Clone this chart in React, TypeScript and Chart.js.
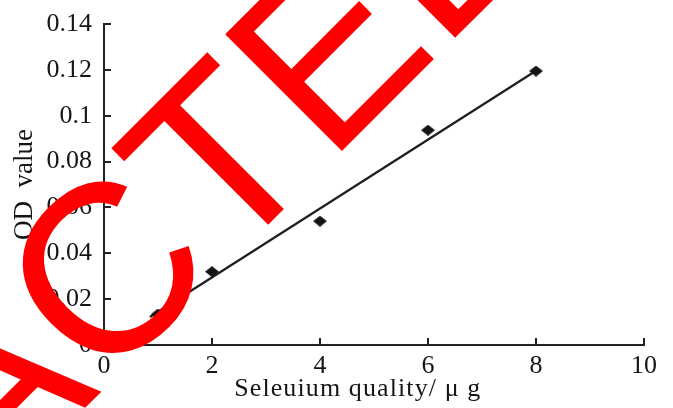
import React, { useEffect, useRef } from "react";
import { Chart, registerables } from "chart.js";

Chart.register(...registerables);

// ---- data ----
const seleniumMass = [1, 2, 4, 6, 8];
const odValues = [0.0135, 0.032, 0.054, 0.0937, 0.1195];
const fitX = [0.85, 8];
const fitY = [0.0122, 0.1196];

const xTicks = [0, 2, 4, 6, 8, 10];
const xTickLabels = ["0", "2", "4", "6", "8", "10"];
const yTicks = [0, 0.02, 0.04, 0.06, 0.08, 0.1, 0.12, 0.14];
const yTickLabels = ["0", "0.02", "0.04", "0.06", "0.08", "0.1", "0.12", "0.14"];

const xTitle = "Seleuium quality/ \u03bc g";
const yTitle = "OD  value";
const stampText = "RETRACTED";
const stampAnchorWord = "RETRACT";

const SERIF = '"Liberation Serif", "Times New Roman", serif';
const AXIS_COLOR = "#222";
const TEXT_COLOR = "#161616";

function makeDiamond(): HTMLCanvasElement {
  const c = document.createElement("canvas");
  c.width = 14;
  c.height = 11;
  const g = c.getContext("2d")!;
  g.fillStyle = "#141414";
  g.beginPath();
  g.moveTo(0, 5.5);
  g.lineTo(7, 0);
  g.lineTo(14, 5.5);
  g.lineTo(7, 11);
  g.closePath();
  g.fill();
  return c;
}

const innerTicks = {
  id: "innerTicks",
  afterDatasetsDraw(chart: any) {
    const { ctx, chartArea } = chart;
    const xs = chart.scales.x;
    const ys = chart.scales.y;
    ctx.save();
    ctx.strokeStyle = AXIS_COLOR;
    ctx.lineWidth = 2;
    ctx.beginPath();
    yTicks.forEach((v) => {
      if (v === 0) return;
      const py = Math.round(ys.getPixelForValue(v));
      ctx.moveTo(chartArea.left, py);
      ctx.lineTo(chartArea.left + 7, py);
    });
    xTicks.forEach((v) => {
      if (v === 0) return;
      const px = Math.round(xs.getPixelForValue(v));
      ctx.moveTo(px, chartArea.bottom);
      ctx.lineTo(px, chartArea.bottom - 7);
    });
    ctx.stroke();

    // x-axis title (slightly letter-spaced, as in the original figure)
    ctx.fillStyle = TEXT_COLOR;
    ctx.font = `26px ${SERIF}`;
    (ctx as any).letterSpacing = "1.1px";
    ctx.textAlign = "center";
    ctx.textBaseline = "alphabetic";
    ctx.fillText(xTitle, xs.getPixelForValue(4.7), chartArea.bottom + 51);
    ctx.restore();
  },
};

const stamp = {
  id: "stamp",
  afterDraw(chart: any) {
    const { ctx } = chart;
    ctx.save();
    ctx.fillStyle = "#ff0000";
    ctx.font = '240px "Liberation Sans", Arial, sans-serif';
    ctx.textBaseline = "alphabetic";
    ctx.textAlign = "left";
    ctx.translate(328, 165);
    ctx.rotate(-Math.PI / 4);
    const w = ctx.measureText(stampAnchorWord).width;
    ctx.fillText(stampText, -w, 0);
    ctx.restore();
  },
};

export default function App() {
  const ref = useRef<HTMLCanvasElement | null>(null);

  useEffect(() => {
    document.body.style.margin = "0";
    const canvas = ref.current!;
    const diamond = makeDiamond();
    const chart = new Chart(canvas, {
      type: "scatter",
      data: {
        datasets: [
          {
            type: "scatter",
            data: seleniumMass.map((x, i) => ({ x, y: odValues[i] })),
            pointStyle: diamond as any,
            pointRadius: 7,
            order: 0,
          },
          {
            type: "line",
            data: fitX.map((x, i) => ({ x, y: fitY[i] })),
            borderColor: "#1e1e1e",
            borderWidth: 2.2,
            pointRadius: 0,
            fill: false,
            order: 1,
          } as any,
        ],
      },
      options: {
        animation: false,
        responsive: false,
        devicePixelRatio: 1,
        layout: { padding: { left: 0, top: 24, right: 29, bottom: 0 } },
        plugins: {
          legend: { display: false },
          tooltip: { enabled: false },
        },
        scales: {
          x: {
            type: "linear",
            min: 0,
            max: 10,
            afterBuildTicks: (s: any) => {
              s.ticks = xTicks.map((v) => ({ value: v }));
            },
            afterFit: (s: any) => {
              s.height = 63;
              s.paddingLeft = 0;
              s.paddingRight = 0;
            },
            grid: { display: false, drawTicks: false },
            border: { display: true, color: AXIS_COLOR, width: 2 },
            ticks: {
              color: TEXT_COLOR,
              font: { family: SERIF, size: 26 },
              padding: 6,
              maxRotation: 0,
              autoSkip: false,
              callback: (v: any) => xTickLabels[xTicks.indexOf(v)],
            },
            title: { display: false },
          },
          y: {
            type: "linear",
            min: 0,
            max: 0.14,
            afterBuildTicks: (s: any) => {
              s.ticks = yTicks.map((v) => ({ value: v }));
            },
            afterFit: (s: any) => {
              s.width = 104;
              s.paddingTop = 0;
              s.paddingBottom = 0;
            },
            grid: { display: false, drawTicks: false },
            border: { display: true, color: AXIS_COLOR, width: 2 },
            ticks: {
              color: TEXT_COLOR,
              font: { family: SERIF, size: 26 },
              padding: 12,
              autoSkip: false,
              callback: (v: any) => yTickLabels[yTicks.indexOf(v)],
            },
            title: {
              display: true,
              text: yTitle,
              color: TEXT_COLOR,
              font: { family: SERIF, size: 27 },
              padding: { top: 9, bottom: 0 },
            },
          },
        },
      },
      plugins: [innerTicks, stamp],
    });
    return () => chart.destroy();
  }, []);

  return (
    <div style={{ position: "absolute", left: 0, top: 0, width: 673, height: 408, background: "#fff" }}>
      <canvas ref={ref} width={673} height={408} style={{ display: "block" }} />
    </div>
  );
}
